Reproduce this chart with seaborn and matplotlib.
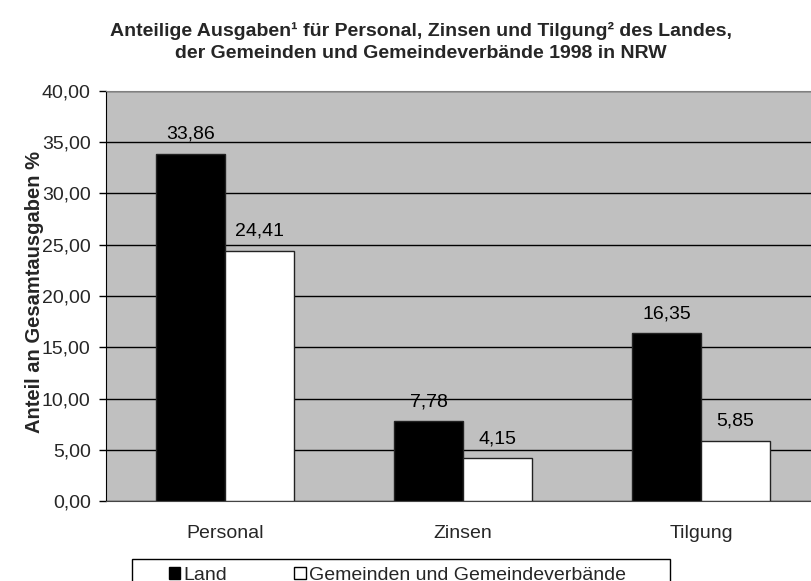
import numpy as np
import pandas as pd
import matplotlib
matplotlib.use('Agg')
import matplotlib.pyplot as plt
import matplotlib.ticker as mticker
from matplotlib.patches import Patch, Rectangle
import seaborn as sns

# %%
kategorien = ['Personal', 'Zinsen', 'Tilgung']
land = [33.86, 7.78, 16.35]
gemeinden = [24.41, 4.15, 5.85]
reihen = ['Land', 'Gemeinden und Gemeindeverbände']
y_ticks = [0, 5, 10, 15, 20, 25, 30, 35, 40]

df = pd.DataFrame({
    'Kategorie': kategorien * 2,
    'Anteil': land + gemeinden,
    'Ebene': [reihen[0]] * 3 + [reihen[1]] * 3,
})

def komma(v, pos=None):
    return f"{v:.2f}".replace('.', ',')

# %%
sns.set_style('white')
plt.rcParams['font.family'] = ['Liberation Sans', 'DejaVu Sans']

fs = 14
fig = plt.figure(figsize=(8.12, 5.81), dpi=100)
ax = fig.add_axes([106/812, 1 - 501/581, 714/812, 410/581])
ax.set_facecolor('#c0c0c0')

sns.barplot(data=df, x='Kategorie', y='Anteil', hue='Ebene', order=kategorien,
            hue_order=reihen, palette=['black', 'white'], edgecolor='#222222',
            linewidth=1, width=0.576, gap=0, ax=ax, legend=False, zorder=3)

for cont in ax.containers:
    ax.bar_label(cont, labels=[komma(b.get_height()) for b in cont],
                 padding=8, fontsize=fs, color='black')

ax.set_xlim(-0.5, 2.5)
ax.set_ylim(0, 40)
ax.set_yticks(y_ticks)
ax.yaxis.set_major_formatter(mticker.FuncFormatter(komma))
ax.grid(axis='y', color='black', linewidth=1, zorder=0)
ax.set_axisbelow(True)

ax.set_xticks(range(3))
ax.set_xticks([-0.5, 0.5, 1.5, 2.5], minor=True)
ax.tick_params(axis='x', which='major', length=0, pad=17, labelsize=fs)
ax.tick_params(axis='x', which='minor', length=5, width=1, color='#333333', direction='out')
ax.tick_params(axis='y', length=5, width=1, color='black', direction='out', pad=6, labelsize=fs, left=True)

ax.spines['left'].set_color('black')
ax.spines['bottom'].set_color('#444444')
ax.spines['top'].set_color('#808080')
ax.spines['right'].set_visible(False)

ax.set_xlabel('')
ax.set_ylabel('Anteil an Gesamtausgaben %', fontsize=14.5, fontweight='bold')
ax.yaxis.set_label_coords(-0.0874, 0.51)

# title, two centred lines
fig.text(421/812, 1 - 36/581,
         'Anteilige Ausgaben¹ für Personal, Zinsen und Tilgung² des Landes,',
         ha='center', va='baseline', fontsize=14, fontweight='bold')
fig.text(421/812, 1 - 58/581,
         'der Gemeinden und Gemeindeverbände 1998 in NRW',
         ha='center', va='baseline', fontsize=14, fontweight='bold')

# legend entries, with the Excel-style box drawn around them
handles = [Patch(facecolor='black', edgecolor='black'),
           Patch(facecolor='white', edgecolor='black')]
leg = fig.legend(handles, reihen, loc='upper left',
                 bbox_to_anchor=(163/812, 1 - 561/581), ncol=2, fontsize=fs,
                 frameon=False, handlelength=0.6, handleheight=0.6,
                 handletextpad=0.15, columnspacing=3.45, borderpad=0.3,
                 borderaxespad=0)
fig.add_artist(Rectangle((132/812, -0.05), (670 - 132)/812, 0.05 + 22/581,
                         transform=fig.transFigure, facecolor='none',
                         edgecolor='black', linewidth=1))

fig.savefig('out.png', dpi=100)
